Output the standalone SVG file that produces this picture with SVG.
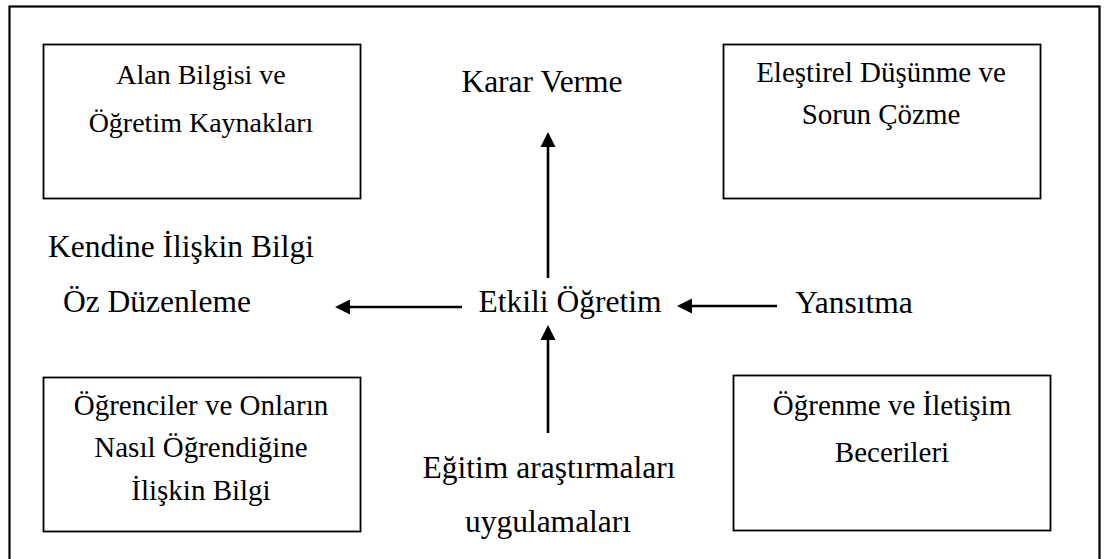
<svg xmlns="http://www.w3.org/2000/svg" width="1105" height="559" viewBox="0 0 1105 559">
<style>
  .frame{fill:none;stroke:#000;stroke-width:2.2}
  .box{fill:#fff;stroke:#000;stroke-width:1.8}
  .bt{font-family:'Liberation Serif','Times New Roman',Tinos,'DejaVu Serif',serif;font-size:29px;fill:#000;text-anchor:middle}
  .bt28{font-size:28px}
  .lt{font-family:'Liberation Serif','Times New Roman',Tinos,'DejaVu Serif',serif;font-size:31.5px;fill:#000;text-anchor:middle}
  .conn{stroke:#000;stroke-width:2.6;fill:none}
  .head{fill:#000}
</style>
<rect width="1105" height="559" fill="#fff"/>
<rect class="frame" x="9.5" y="6.5" width="1090" height="570"/>

<g id="alan-bilgisi">
  <rect class="box" x="43.5" y="44.5" width="317" height="154"/>
  <text class="bt bt28" x="201" y="84">Alan Bilgisi ve</text>
  <text class="bt bt28" x="201" y="132">Öğretim Kaynakları</text>
</g>
<g id="elestirel">
  <rect class="box" x="723.5" y="44.5" width="317" height="154"/>
  <text class="bt" x="881" y="82">Eleştirel Düşünme ve</text>
  <text class="bt" x="881" y="124">Sorun Çözme</text>
</g>
<g id="ogrenciler">
  <rect class="box" x="43.5" y="377.5" width="317" height="154"/>
  <text class="bt" x="201" y="415">Öğrenciler ve Onların</text>
  <text class="bt" x="201" y="457">Nasıl Öğrendiğine</text>
  <text class="bt" x="201" y="500">İlişkin Bilgi</text>
</g>
<g id="ogrenme">
  <rect class="box" x="733.5" y="375.5" width="317" height="155"/>
  <text class="bt" x="892" y="415">Öğrenme ve İletişim</text>
  <text class="bt" x="892" y="462">Becerileri</text>
</g>
<g id="karar-verme">
  <text class="lt" x="542" y="92">Karar Verme</text>
</g>
<g id="kendine">
  <text class="lt" x="181" y="257">Kendine İlişkin Bilgi</text>
  <text class="lt" x="157" y="312">Öz Düzenleme</text>
</g>
<g id="etkili-ogretim">
  <text class="lt" x="570" y="312">Etkili Öğretim</text>
</g>
<g id="yansitma">
  <text class="lt" x="854" y="313">Yansıtma</text>
</g>
<g id="egitim">
  <text class="lt" x="549" y="478">Eğitim araştırmaları</text>
  <text class="lt" x="548" y="532">uygulamaları</text>
</g>

<g id="connectors">
  <line class="conn" x1="548" y1="278" x2="548" y2="144"/>
  <polygon class="head" points="548,132 540.5,147 555.5,147"/>
  <line class="conn" x1="548" y1="433" x2="548" y2="338"/>
  <polygon class="head" points="548,325 540.5,340 555.5,340"/>
  <line class="conn" x1="462" y1="307" x2="348" y2="307"/>
  <polygon class="head" points="335,307 350,299.5 350,314.5"/>
  <line class="conn" x1="777" y1="306" x2="690" y2="306"/>
  <polygon class="head" points="677,306 692,298.5 692,313.5"/>
</g>
</svg>
